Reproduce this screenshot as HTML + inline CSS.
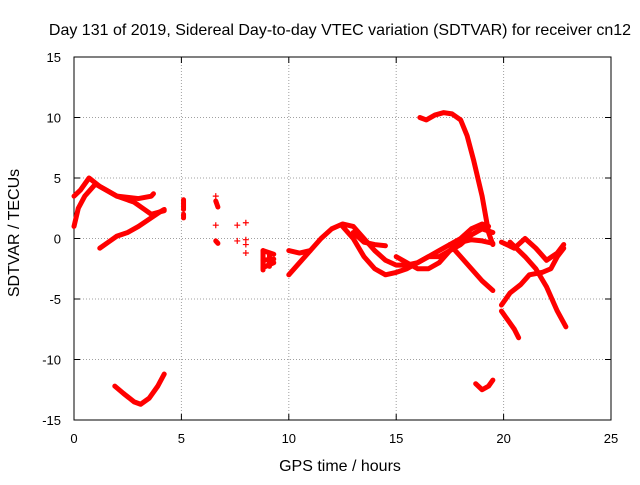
<!DOCTYPE html>
<html><head><meta charset="utf-8"><style>
body{margin:0;background:#fff}
svg text{font-family:"Liberation Sans",sans-serif;font-size:13px;fill:#000}
svg text.big{font-size:16px}
</style></head><body>
<svg id="c" width="640" height="480"></svg>
<script>
const xTicks=[0,5,10,15,20,25];
const yTicks=[-15,-10,-5,0,5,10,15];
const tracks=[
[[0,3.5],[0.3,4],[0.7,5],[1.2,4.3],[2,3.5],[2.8,3],[3.2,2.5],[3.6,2],[4,2.2],[4.2,2.3]],
[[0,1],[0.2,2.5],[0.5,3.5],[1,4.5],[1.5,4],[2,3.5],[3,3.3],[3.6,3.5],[3.7,3.7]],
[[1.2,-0.8],[1.6,-0.3],[2,0.2],[2.5,0.5],[3,1],[3.5,1.6],[4,2.2],[4.2,2.4]],
[[1.9,-12.2],[2.3,-12.8],[2.8,-13.5],[3.1,-13.7],[3.5,-13.2],[3.9,-12.2],[4.2,-11.2]],
[[5.1,3.2],[5.1,2.4]],[[5.1,2.0],[5.1,1.7]],
[[6.6,3.1],[6.7,2.6]],[[6.6,-0.2],[6.7,-0.4]],
[[8.8,-1.0],[9.3,-1.3]],[[8.8,-2.4],[9.3,-2.0]],[[8.8,-1.8],[9.3,-1.7]],[[8.8,-1],[8.8,-2.6]],[[9.1,-1.2],[9.1,-2.3]],
[[10,-3],[10.5,-2],[11,-1],[11.5,0],[12,0.8],[12.5,1.2],[13,1],[13.5,0],[14,-1],[14.5,-1.8],[15,-2.2],[15.5,-2.2],[16,-2],[16.5,-1.5],[17,-1],[17.5,-0.5],[18,0],[18.5,0.8],[19,1.2],[19.3,1]],
[[10,-1],[10.5,-1.2],[11,-1]],
[[12.5,1],[13,0],[13.5,-1.5],[14,-2.5],[14.5,-3],[15,-2.8],[15.5,-2.5],[16,-2],[16.5,-1.5],[17,-1.5],[17.5,-1],[18,-0.5],[18.5,0.3],[19,0.8],[19.5,0.5]],
[[13,0.5],[13.5,-0.3],[14,-0.5],[14.5,-0.6]],
[[15,-1.5],[16,-2.5],[16.5,-2.5],[17,-2],[17.5,-1],[18,-0.3],[18.5,-0.1],[19,-0.2],[19.5,-0.4]],
[[17.5,-0.5],[18,-1.5],[18.5,-2.5],[19,-3.5],[19.5,-4.3]],
[[16.1,10],[16.4,9.8],[16.8,10.2],[17.2,10.4],[17.6,10.3],[18,9.8],[18.3,8.5],[18.6,6.5],[19,3.5],[19.3,0.5],[19.5,-0.5]],
[[18.7,-12],[19,-12.5],[19.3,-12.2],[19.5,-11.7]],
[[19.9,-6],[20.1,-6.5],[20.5,-7.5],[20.7,-8.2]],
[[19.9,-5.5],[20.3,-4.5],[20.8,-3.8],[21.2,-3.0],[21.8,-2.8],[22.2,-2.5],[22.5,-1.5],[22.8,-0.8]],
[[19.9,-0.3],[20.5,-0.8],[21,0],[21.5,-0.8],[22,-1.8],[22.5,-1.2],[22.8,-0.5]],
[[20.3,-0.3],[21,-1.5],[21.5,-2.5],[22,-4],[22.5,-6],[22.9,-7.3]]
];
const scatter=[[6.6,3.5],[6.6,1.1],[7.6,1.1],[7.6,-0.2],[8,1.3],[8,-0.1],[8,-0.5],[8,-1.2]];
const X0=74,X1=611,Y0=420,Y1=57;
const sx=v=>X0+(v-0)/(25-0)*(X1-X0);
const sy=v=>Y0-(v+15)/30*(Y0-Y1);
const svg=document.getElementById('c');const NS='http://www.w3.org/2000/svg';
function mk(t,a,txt){const e=document.createElementNS(NS,t);for(const k in a)e.setAttribute(k,a[k]);if(txt!=null)e.textContent=txt;svg.appendChild(e);return e;}
xTicks.forEach(t=>{const x=sx(t);
 if(t>0&&t<25){const g=mk('line',{x1:x,x2:x,y1:Y0,y2:Y1,stroke:'#a0a0a0','stroke-dasharray':'1,2'});}
 mk('line',{x1:x,x2:x,y1:Y0,y2:Y0-6,stroke:'#000'});mk('line',{x1:x,x2:x,y1:Y1,y2:Y1+6,stroke:'#000'});
 const l=mk('text',{x:x,y:Y0+23,'text-anchor':'middle'},t);});
yTicks.forEach(t=>{const y=sy(t);
 if(t>-15&&t<15){const g=mk('line',{x1:X0,x2:X1,y1:y,y2:y,stroke:'#a0a0a0','stroke-dasharray':'1,2'});}
 mk('line',{x1:X0,x2:X0+6,y1:y,y2:y,stroke:'#000'});mk('line',{x1:X1,x2:X1-6,y1:y,y2:y,stroke:'#000'});
 const l=mk('text',{x:X0-13,y:y+5,'text-anchor':'end'},t);});
const fr=mk('rect',{x:X0,y:Y1,width:X1-X0,height:Y0-Y1,fill:'none',stroke:'#000'});

tracks.forEach(tr=>{const p=mk('polyline',{points:tr.map(d=>sx(d[0])+','+sy(d[1])).join(' '),fill:'none',stroke:'#f00','stroke-width':5,'stroke-linejoin':'round','stroke-linecap':'round'});
 });
scatter.forEach(d=>{const x=sx(d[0]),y=sy(d[1]);const p=mk('path',{d:`M${x-3},${y}H${x+3}M${x},${y-3}V${y+3}`,stroke:'#f00','stroke-width':1.2});
 });
const t=mk('text',{x:340,y:35,'text-anchor':'middle','class':'big'},'Day 131 of 2019, Sidereal Day-to-day VTEC variation (SDTVAR) for receiver cn12');

const xl=mk('text',{x:340,y:471,'text-anchor':'middle','class':'big'},'GPS time / hours');

const yl=mk('text',{x:0,y:0,'text-anchor':'middle','class':'big',transform:'translate(19,233) rotate(-90)'},'SDTVAR / TECUs');

</script>
</body></html>
